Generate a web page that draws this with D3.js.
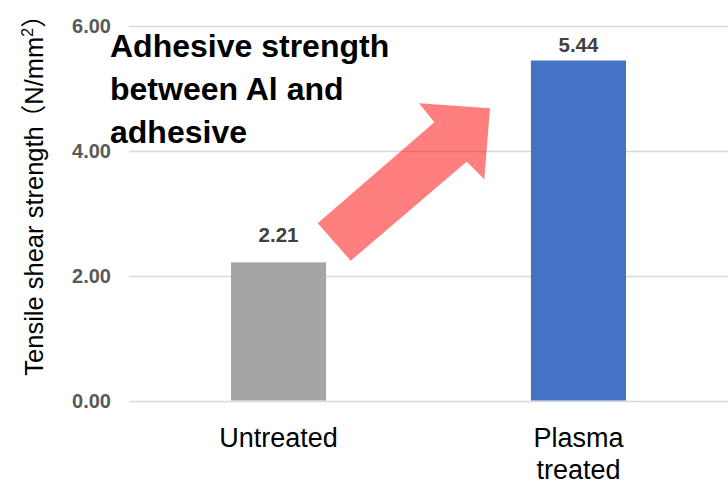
<!DOCTYPE html>
<html>
<head>
<meta charset="utf-8">
<script src="https://cdn.jsdelivr.net/npm/d3@7"></script>
<style>
  html, body { margin: 0; padding: 0; background: #ffffff; }
  svg { display: block; }
</style>
</head>
<body>
<svg id="chart" width="728" height="484"></svg>
<script>
// Tensile shear strength, untreated vs plasma treated aluminium
const categories = ["Untreated", "Plasma treated"];
const strengths = [2.21, 5.44];
const barColors = ["#a5a5a5", "#4472c4"];
const yTicks = [0, 2, 4, 6];
const yTitle = "Tensile shear strength";
const noteLines = ["Adhesive strength", "between Al and", "adhesive"];

// value label lift above each bar top (px)
const labelLift = [20, 9];

const W = 728, H = 484;
const plot = { left: 129, right: 728, top: 25.5, bottom: 400.5 };

const svg = d3.select("#chart");

const x = d3.scaleBand()
  .domain(categories)
  .range([plot.left, plot.right])
  .paddingInner(0.683)
  .paddingOuter(0.34);

const y = d3.scaleLinear()
  .domain([0, 6])
  .range([plot.bottom, plot.top]);

// horizontal gridlines
svg.append("g")
  .selectAll("line")
  .data(yTicks)
  .join("line")
  .attr("x1", plot.left)
  .attr("x2", plot.right)
  .attr("y1", d => Math.round(y(d)) + 0.5)
  .attr("y2", d => Math.round(y(d)) + 0.5)
  .attr("stroke", "#d9d9d9")
  .attr("stroke-width", 1.3);

// y axis tick labels
const yAxis = d3.axisLeft(y)
  .tickValues(yTicks)
  .tickSize(0)
  .tickPadding(18)
  .tickFormat(d3.format(".2f"));

const gy = svg.append("g")
  .attr("transform", `translate(${plot.left},0)`)
  .call(yAxis);
gy.select(".domain").remove();
gy.selectAll("text")
  .attr("dy", 7)
  .attr("font-family", "'Liberation Sans', Arial, sans-serif")
  .attr("font-size", 20)
  .attr("font-weight", "bold")
  .attr("fill", "#595959");

// bars
svg.append("g")
  .selectAll("rect")
  .data(categories)
  .join("rect")
  .attr("x", d => x(d))
  .attr("width", x.bandwidth())
  .attr("y", (d, i) => y(strengths[i]))
  .attr("height", (d, i) => y(0) - y(strengths[i]))
  .attr("fill", (d, i) => barColors[i]);

// value labels
svg.append("g")
  .selectAll("text")
  .data(categories)
  .join("text")
  .attr("x", d => x(d) + x.bandwidth() / 2)
  .attr("y", (d, i) => y(strengths[i]) - labelLift[i])
  .attr("text-anchor", "middle")
  .attr("font-family", "'Liberation Sans', Arial, sans-serif")
  .attr("font-size", 20.5)
  .attr("font-weight", "bold")
  .attr("fill", "#404040")
  .text((d, i) => d3.format(".2f")(strengths[i]));

// x category labels (wrapped after the first word where needed)
const xAxis = d3.axisBottom(x).tickSize(0).tickPadding(0);
const gx = svg.append("g")
  .attr("transform", `translate(0,${plot.bottom})`)
  .call(xAxis);
gx.select(".domain").remove();
gx.selectAll("text")
  .attr("font-family", "'Liberation Sans', Arial, sans-serif")
  .attr("font-size", 27)
  .attr("fill", "#000000")
  .attr("y", 46)
  .attr("dy", 0)
  .each(function(d) {
    const words = d.split(" ");
    const t = d3.select(this).text(null);
    const lines = words.length > 1 ? [words[0], words.slice(1).join(" ")] : [d];
    lines.forEach((ln, k) => {
      t.append("tspan")
        .attr("x", 0)
        .attr("dy", k === 0 ? 0 : 32)
        .text(ln);
    });
  });

// y axis title
const yt = svg.append("text")
  .attr("transform", `translate(43,189) rotate(-90)`)
  .attr("text-anchor", "middle")
  .attr("font-family", "'Liberation Sans', Arial, 'Noto Sans CJK JP', sans-serif")
  .attr("font-size", 25.5)
  .attr("fill", "#000000");
yt.append("tspan").text(yTitle);
yt.append("tspan").attr("font-family", "'Noto Sans CJK JP', sans-serif").attr("dx", -4).text("（");
yt.append("tspan").text("N/mm");
yt.append("tspan").attr("font-size", 16).attr("dy", -10).text("2");
yt.append("tspan").attr("font-family", "'Noto Sans CJK JP', sans-serif").attr("dy", 10).text("）");

// rising arrow between the two bars
const arrowPts = [
  [317.7, 223.3], [434.3, 122.3], [419, 103.3], [490, 108.3],
  [484.3, 179.3], [466.7, 161.7], [350.7, 260.7]
];
svg.append("path")
  .attr("d", d3.line()(arrowPts) + "Z")
  .attr("fill", "#ff0000")
  .attr("fill-opacity", 0.5);

// annotation text
const note = svg.append("text")
  .attr("font-family", "'Liberation Sans', Arial, sans-serif")
  .attr("font-size", 32)
  .attr("font-weight", "bold")
  .attr("fill", "#000000");
noteLines.forEach((ln, k) => {
  note.append("tspan")
    .attr("x", 110)
    .attr("y", 56.5 + k * 43.3)
    .text(ln);
});
</script>
</body>
</html>
